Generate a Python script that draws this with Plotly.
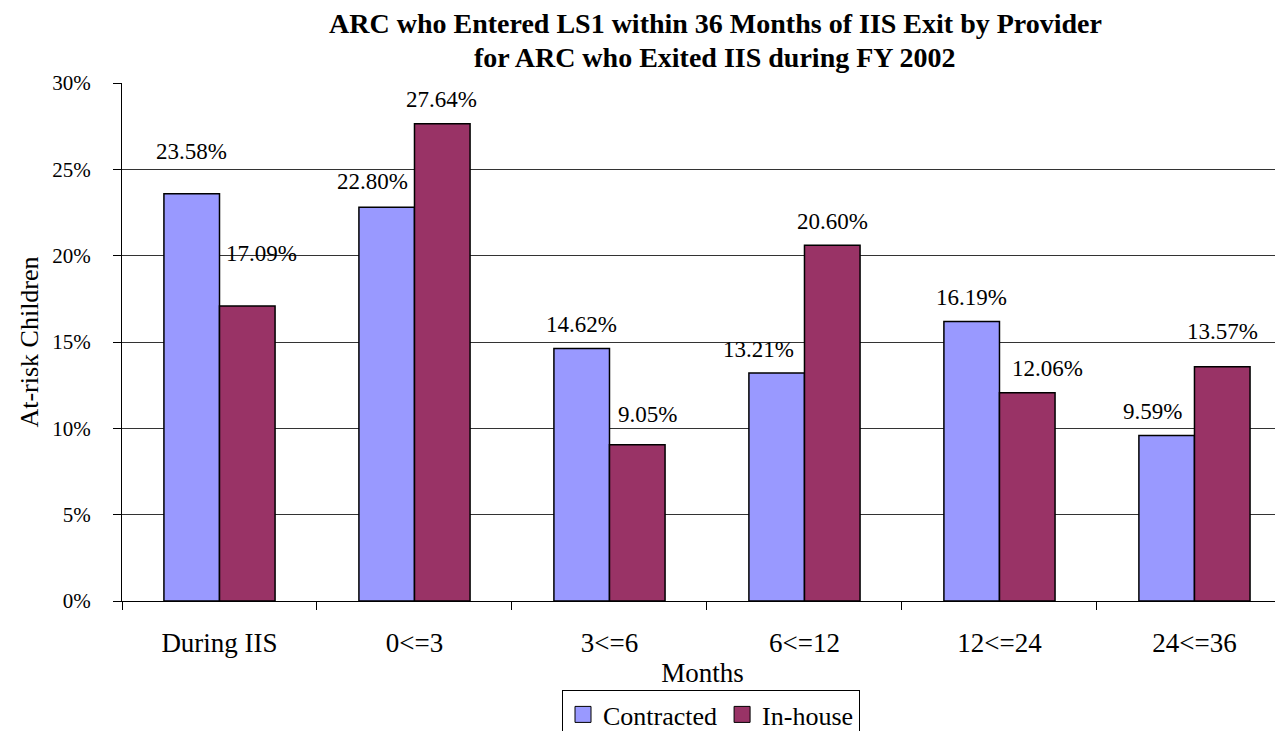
import plotly.graph_objects as go

categories = ["During IIS", "0<=3", "3<=6", "6<=12", "12<=24", "24<=36"]
contracted = [23.58, 22.80, 14.62, 13.21, 16.19, 9.59]
inhouse = [17.09, 27.64, 9.05, 20.60, 12.06, 13.57]
series_names = ["Contracted", "In-house"]
series_colors = ["#9999FF", "#993366"]
title_lines = ["ARC who Entered LS1 within 36 Months of IIS Exit by Provider",
               "for ARC who Exited IIS during FY 2002"]

# label placement offsets (pixels) mimicking the original chart's label layout
c_xshift = [0, -14, 0, -18, 0, -14]
c_yshift = [42, 26, 24, 23, 24, 24]
i_xshift = [14, -1, 10, 0, 20, 0]
i_yshift = [52, 24, 30, 24, 24, 35]

FONT = "Liberation Serif, Times New Roman, serif"

# page body has an 8px margin; figure sized so it fills the window
W, H = 1275, 723
L, T, B = 114, 75, 130
PW, PH = W - L, H - T - B

fig = go.Figure()
for name, vals, col in zip(series_names, [contracted, inhouse], series_colors):
    fig.add_trace(go.Bar(name=name, x=categories, y=vals, showlegend=False,
                         marker=dict(color=col, line=dict(color="black", width=1.5))))
# legend entries with larger square swatches
for name, col in zip(series_names, series_colors):
    fig.add_trace(go.Scatter(name=name, x=[None], y=[None], mode="markers",
                             marker=dict(symbol="square", size=16, color=col,
                                         line=dict(color="black", width=1))))

bw = (1 - 0.43) / 2
ann = []
for i, c in enumerate(categories):
    ann.append(dict(x=i - bw / 2, y=contracted[i], xref="x", yref="y", text=f"{contracted[i]:.2f}%",
                    showarrow=False, xshift=c_xshift[i], yshift=c_yshift[i],
                    font=dict(family=FONT, size=23, color="black"), yanchor="middle"))
    ann.append(dict(x=i + bw / 2, y=inhouse[i], xref="x", yref="y", text=f"{inhouse[i]:.2f}%",
                    showarrow=False, xshift=i_xshift[i], yshift=i_yshift[i],
                    font=dict(family=FONT, size=23, color="black"), yanchor="middle"))

for line, yc in zip(title_lines, [23, 57]):
    ann.append(dict(text=f"<b>{line}</b>",
                    xref="paper", yref="paper", x=(715 - 8 - L) / PW, y=1 + (83 - yc) / PH,
                    xanchor="center", yanchor="middle", showarrow=False,
                    font=dict(family=FONT, size=28, color="black")))

fig.update_layout(
    width=W, height=H,
    paper_bgcolor="white", plot_bgcolor="white",
    margin=dict(l=L, r=0, t=T, b=B, autoexpand=False),
    barmode="group", bargap=0.43, bargroupgap=0,
    font=dict(family=FONT, color="black"),
    xaxis=dict(type="category", range=[-0.5, 5.454], tickson="boundaries",
               ticks="outside", ticklen=8, tickcolor="black",
               showline=True, linecolor="black", linewidth=1,
               tickfont=dict(family=FONT, size=27), ticklabelstandoff=18,
               title=dict(text="Months", font=dict(family=FONT, size=27), standoff=5)),
    yaxis=dict(range=[0, 30], dtick=5, ticksuffix="%", showgrid=True, gridcolor="#333333", gridwidth=1,
               ticks="outside", ticklen=8, tickcolor="black",
               showline=True, linecolor="black", linewidth=1, zeroline=False,
               tickfont=dict(family=FONT, size=21), ticklabelstandoff=18,
               title=dict(text="At-risk Children", font=dict(family=FONT, size=26), standoff=6)),
    legend=dict(orientation="h", x=(711 - 8 - L) / PW, xanchor="center",
                y=-(690 - 601) / PH, yanchor="top",
                bordercolor="black", borderwidth=1, bgcolor="white",
                font=dict(family=FONT, size=26), itemwidth=30, tracegroupgap=0,
                itemsizing="trace"),
    annotations=ann,
)

fig.write_html("out.html")
